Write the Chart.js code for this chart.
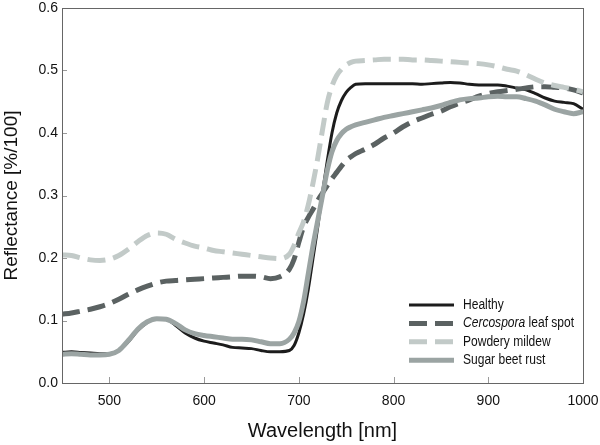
<!DOCTYPE html>
<html>
<head>
<meta charset="utf-8">
<script src="https://cdn.jsdelivr.net/npm/chart.js@4.4.1/dist/chart.umd.min.js"></script>
<style>
  html, body { margin: 0; padding: 0; background: #fff; }
</style>
</head>
<body>
<canvas id="chart" width="600" height="445"></canvas>
<script>
// Reflectance spectra
const wavelengths = [450, 460, 470, 480, 490, 500, 510, 520, 530, 540, 550, 560, 570, 580, 590, 600,
    610, 620, 630, 640, 650, 660, 670, 680, 690, 695, 700, 705, 710, 715, 720, 725, 730, 735, 740,
    745, 750, 755, 760, 770, 780, 790, 800, 810, 820, 830, 840, 850, 860, 870, 880, 890, 900, 910,
    920, 930, 940, 950, 960, 970, 980, 990, 1000];

const healthy = [0.049, 0.050, 0.049, 0.048, 0.047, 0.047, 0.052, 0.066, 0.084, 0.097, 0.103, 0.102,
    0.092, 0.080, 0.072, 0.067, 0.064, 0.061, 0.057, 0.056, 0.055, 0.052, 0.050, 0.050, 0.052, 0.060,
    0.080, 0.110, 0.150, 0.200, 0.250, 0.305, 0.355, 0.400, 0.432, 0.452, 0.465, 0.473, 0.478, 0.479,
    0.479, 0.479, 0.479, 0.479, 0.479, 0.478, 0.479, 0.480, 0.481, 0.480, 0.478, 0.477, 0.477, 0.477,
    0.475, 0.472, 0.469, 0.463, 0.456, 0.451, 0.449, 0.447, 0.438];

const cercospora = [0.110, 0.112, 0.115, 0.118, 0.122, 0.127, 0.134, 0.142, 0.149, 0.155, 0.160, 0.163,
    0.164, 0.165, 0.166, 0.167, 0.168, 0.169, 0.170, 0.171, 0.171, 0.170, 0.167, 0.170, 0.182, 0.198,
    0.225, 0.250, 0.265, 0.278, 0.292, 0.304, 0.316, 0.327, 0.337, 0.347, 0.356, 0.362, 0.367, 0.374,
    0.382, 0.392, 0.400, 0.410, 0.418, 0.424, 0.430, 0.435, 0.442, 0.448, 0.453, 0.459, 0.463, 0.466,
    0.468, 0.470, 0.472, 0.474, 0.474, 0.473, 0.472, 0.469, 0.464];

const mildew = [0.205, 0.204, 0.200, 0.197, 0.196, 0.198, 0.204, 0.214, 0.226, 0.236, 0.240, 0.238,
    0.230, 0.224, 0.219, 0.216, 0.212, 0.210, 0.208, 0.206, 0.204, 0.202, 0.200, 0.199, 0.206, 0.220,
    0.240, 0.258, 0.285, 0.320, 0.360, 0.405, 0.448, 0.475, 0.492, 0.502, 0.509, 0.513, 0.515, 0.516,
    0.517, 0.518, 0.518, 0.518, 0.517, 0.517, 0.516, 0.515, 0.514, 0.513, 0.512, 0.511, 0.509, 0.506,
    0.502, 0.499, 0.493, 0.486, 0.480, 0.476, 0.473, 0.470, 0.466];

const rust = [0.046, 0.047, 0.046, 0.045, 0.045, 0.046, 0.052, 0.068, 0.086, 0.098, 0.103, 0.102,
    0.095, 0.085, 0.079, 0.076, 0.074, 0.072, 0.070, 0.070, 0.069, 0.066, 0.063, 0.063, 0.070, 0.080,
    0.098, 0.130, 0.175, 0.220, 0.260, 0.300, 0.340, 0.370, 0.388, 0.399, 0.406, 0.410, 0.413, 0.417,
    0.421, 0.425, 0.428, 0.431, 0.434, 0.437, 0.440, 0.444, 0.449, 0.453, 0.455, 0.456, 0.458, 0.459,
    0.458, 0.458, 0.455, 0.451, 0.445, 0.438, 0.434, 0.431, 0.434];

const seriesNames = ["Healthy", "Cercospora leaf spot", "Powdery mildew", "Sugar beet rust"];
const italicWords = ["Cercospora"];
const xTicks = [500, 600, 700, 800, 900, 1000];
const yTicks = [0, 0.1, 0.2, 0.3, 0.4, 0.5, 0.6];

const FONT = "'Liberation Sans', Arial, sans-serif";

function toPoints(values) {
    return wavelengths.map((w, i) => ({ x: w, y: values[i] }));
}

const styles = [
    { color: "#1c1c1c", width: 3, dash: [] },
    { color: "#5b6262", width: 5, dash: [18, 8] },
    { color: "#c2cac8", width: 5, dash: [18, 8] },
    { color: "#9ba4a3", width: 5, dash: [] }
];

const datasets = [healthy, cercospora, mildew, rust].map((vals, i) => ({
    label: seriesNames[i],
    data: toPoints(vals),
    borderColor: styles[i].color,
    borderWidth: styles[i].width,
    borderDash: styles[i].dash,
    pointRadius: 0,
    cubicInterpolationMode: "monotone",
    fill: false
}));

// draw order: light ones first, black on top
const order = [3, 2, 1, 0];
datasets.forEach((d, i) => { d.order = order[i]; });

// box frame, inward ticks and custom legend
const framePlugin = {
    id: "frame",
    afterDatasetsDraw(chart) {
        const ctx = chart.ctx;
        const a = chart.chartArea;
        const xs = chart.scales.x, ys = chart.scales.y;
        ctx.save();
        ctx.strokeStyle = "#9a9a9a";
        ctx.lineWidth = 1;
        ctx.beginPath();
        xTicks.forEach(v => {
            const px = Math.round(xs.getPixelForValue(v)) + 0.5;
            ctx.moveTo(px, a.bottom);
            ctx.lineTo(px, a.bottom - 6);
        });
        yTicks.forEach(v => {
            const py = Math.round(ys.getPixelForValue(v)) + 0.5;
            ctx.moveTo(a.left, py);
            ctx.lineTo(a.left + 5, py);
        });
        ctx.stroke();
        ctx.strokeStyle = "#666";
        ctx.strokeRect(Math.round(a.left) + 0.5, Math.round(a.top) + 0.5,
            Math.round(a.right - a.left), Math.round(a.bottom - a.top));

        // legend
        const lx = 409, tx = 463;
        let ly = 305;
        chart.data.datasets.forEach(ds => {
            ctx.beginPath();
            ctx.setLineDash(ds.borderDash || []);
            ctx.strokeStyle = ds.borderColor;
            ctx.lineWidth = ds.borderWidth;
            ctx.moveTo(lx, ly);
            ctx.lineTo(lx + 45, ly);
            ctx.stroke();
            ctx.setLineDash([]);

            // condensed text like the original
            ctx.save();
            ctx.translate(tx, ly);
            ctx.scale(0.86, 1);
            ctx.fillStyle = "#111";
            ctx.textBaseline = "middle";
            let x = 0;
            ds.label.split(" ").forEach((word, k) => {
                const it = italicWords.includes(word);
                ctx.font = (it ? "italic " : "") + "14px " + FONT;
                const w = (k > 0 ? " " : "") + word;
                ctx.fillText(w, x, 0);
                x += ctx.measureText(w).width;
            });
            ctx.restore();
            ly += 18.4;
        });
        ctx.restore();
    }
};

new Chart(document.getElementById("chart"), {
    type: "line",
    data: { datasets: datasets },
    options: {
        responsive: false,
        animation: false,
        layout: { padding: { top: 8, right: 17, left: 0, bottom: 0 } },
        plugins: { legend: { display: false }, tooltip: { enabled: false } },
        scales: {
            x: {
                type: "linear",
                min: 450,
                max: 1000,
                afterBuildTicks: s => { s.ticks = xTicks.map(v => ({ value: v })); },
                afterFit: s => { s.height = 62; s.paddingLeft = 0; s.paddingRight = 0; },
                grid: { display: false, drawTicks: false },
                border: { display: false },
                ticks: {
                    color: "#111",
                    padding: 10,
                    maxRotation: 0,
                    font: { size: 14, family: FONT },
                    callback: v => String(v)
                },
                title: {
                    display: true,
                    text: "Wavelength [nm]",
                    color: "#111",
                    font: { size: 20, family: FONT },
                    padding: { top: 0, bottom: 2 }
                }
            },
            y: {
                min: 0,
                max: 0.6,
                afterBuildTicks: s => { s.ticks = yTicks.map(v => ({ value: v })); },
                afterFit: s => { s.width = 62; s.paddingTop = 0; s.paddingBottom = 0; },
                grid: { display: false, drawTicks: false },
                border: { display: false },
                ticks: {
                    color: "#111",
                    padding: 4,
                    font: { size: 14, family: FONT },
                    callback: v => v.toFixed(1)
                },
                title: {
                    display: true,
                    text: "Reflectance [%/100]",
                    color: "#111",
                    font: { size: 19, family: FONT },
                    padding: { top: 0, bottom: 0 }
                }
            }
        }
    },
    plugins: [framePlugin]
});
</script>
</body>
</html>
